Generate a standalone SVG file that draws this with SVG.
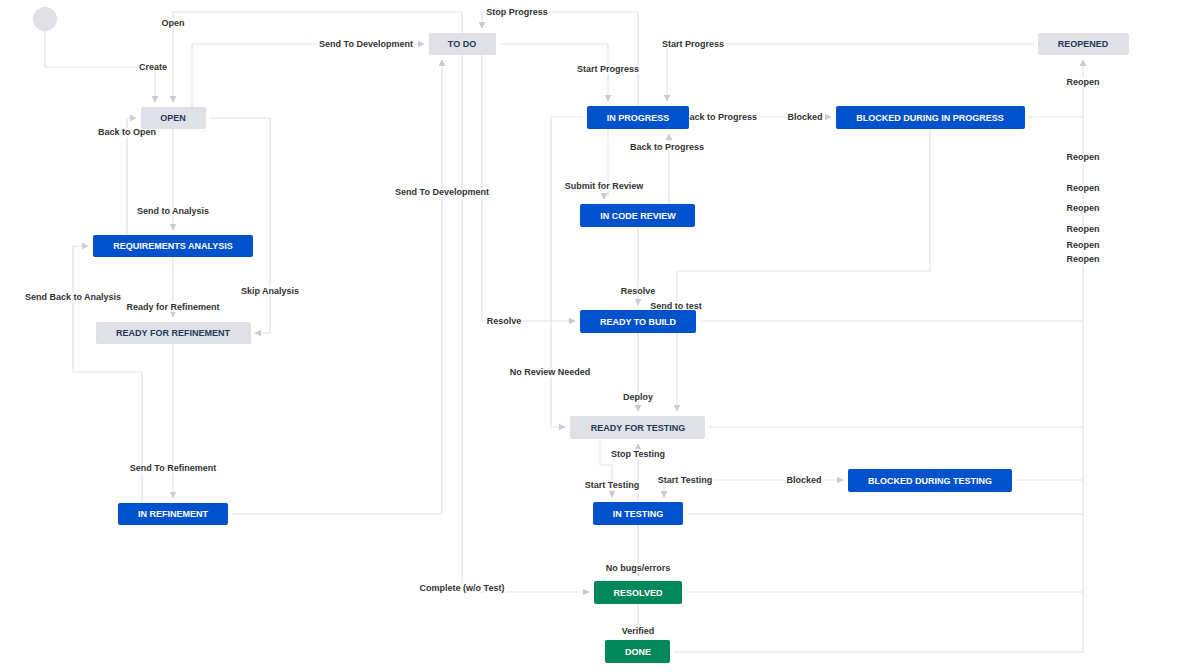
<svg xmlns="http://www.w3.org/2000/svg" width="1200" height="672" viewBox="0 0 1200 672">
<defs>
<marker id="a" viewBox="0 0 10 10" refX="9" refY="5" markerWidth="7" markerHeight="7" orient="auto" markerUnits="userSpaceOnUse"><path d="M0,0 L10,5 L0,10 z" fill="#c9ccd3"/></marker>
<style>
.c{fill:none;stroke:#e1e3e8;stroke-width:1.2}
.l{font-family:"Liberation Sans",Arial,sans-serif;font-size:9px;font-weight:bold;fill:#333;text-anchor:middle;stroke:#fff;stroke-width:4;paint-order:stroke;stroke-linejoin:round}
.n text{font-family:"Liberation Sans",Arial,sans-serif;font-size:9px;font-weight:bold;text-anchor:middle;dominant-baseline:central}
.b rect{fill:#0052cc}.b text{fill:#fff}
.g rect{fill:#dfe1e6}.g text{fill:#253858}
.d rect{fill:#00875a}.d text{fill:#fff}
</style>
</defs>
<rect width="1200" height="672" fill="#fff"/>
<g id="connectors">
<path class="c" marker-end="url(#a)" d="M45,31 V67 H155 V102"/>
<path class="c" marker-end="url(#a)" d="M462,33 V12 H173 V102"/>
<path class="c" marker-end="url(#a)" d="M192,107 V44 H424"/>
<path class="c" marker-end="url(#a)" d="M210,118 H270 V333 H255"/>
<path class="c" marker-end="url(#a)" d="M173,129 V230"/>
<path class="c" marker-end="url(#a)" d="M127,235 V118 H136"/>
<path class="c" marker-end="url(#a)" d="M173,257 V317"/>
<path class="c" marker-end="url(#a)" d="M142,503 V372 H73 V246 H88"/>
<path class="c" marker-end="url(#a)" d="M173,344 V498"/>
<path class="c" marker-end="url(#a)" d="M232,514 H442 V60"/>
<path class="c" marker-end="url(#a)" d="M462,55 V592 H589"/>
<path class="c" marker-end="url(#a)" d="M482,55 V321 H575"/>
<path class="c" marker-end="url(#a)" d="M500,44 H608 V101"/>
<path class="c" marker-end="url(#a)" d="M638,106 V12 H482 V28"/>
<path class="c" marker-end="url(#a)" d="M1034,44 H667 V101"/>
<path class="c" marker-end="url(#a)" d="M689,117 H831"/>
<path class="c" marker-end="url(#a)" d="M1083,652 V60"/>
<path class="c" d="M1029,117 H1083 M700,321 H1083 M709,427 H1083 M687,514 H1083 M1016,480 H1083 M686,592 H1083 M674,652 H1083"/>
<path class="c" marker-end="url(#a)" d="M930,129 V271 H677 V411"/>
<path class="c" marker-end="url(#a)" d="M608,129 V195 H604 V199"/>
<path class="c" marker-end="url(#a)" d="M669,204 V134"/>
<path class="c" marker-end="url(#a)" d="M638,227 V305"/>
<path class="c" marker-end="url(#a)" d="M583,117 H551 V427 H565"/>
<path class="c" marker-end="url(#a)" d="M638,333 V411"/>
<path class="c" marker-end="url(#a)" d="M600,439 V465 H612 V497"/>
<path class="c" marker-end="url(#a)" d="M638,502 V444"/>
<path class="c" marker-end="url(#a)" d="M664,480 H843"/>
<path class="c" marker-end="url(#a)" d="M664,480 V497"/>
<path class="c" marker-end="url(#a)" d="M638,525 V576"/>
<path class="c" marker-end="url(#a)" d="M638,604 V635"/>
<text class="l" x="153" y="70">Create</text>
<text class="l" x="173" y="26">Open</text>
<text class="l" x="366" y="47">Send To Development</text>
<text class="l" x="270" y="294">Skip Analysis</text>
<text class="l" x="173" y="214">Send to Analysis</text>
<text class="l" x="127" y="135">Back to Open</text>
<text class="l" x="173" y="310">Ready for Refinement</text>
<text class="l" x="73" y="300">Send Back to Analysis</text>
<text class="l" x="173" y="471">Send To Refinement</text>
<text class="l" x="442" y="195">Send To Development</text>
<text class="l" x="462" y="591">Complete (w/o Test)</text>
<text class="l" x="504" y="324">Resolve</text>
<text class="l" x="608" y="72">Start Progress</text>
<text class="l" x="517" y="15">Stop Progress</text>
<text class="l" x="693" y="47">Start Progress</text>
<text class="l" x="720" y="120">Back to Progress</text>
<text class="l" x="805" y="120">Blocked</text>
<text class="l" x="1083" y="85">Reopen</text>
<text class="l" x="1083" y="160">Reopen</text>
<text class="l" x="1083" y="191">Reopen</text>
<text class="l" x="1083" y="211">Reopen</text>
<text class="l" x="1083" y="232">Reopen</text>
<text class="l" x="1083" y="248">Reopen</text>
<text class="l" x="1083" y="262">Reopen</text>
<text class="l" x="676" y="309">Send to test</text>
<text class="l" x="604" y="189">Submit for Review</text>
<text class="l" x="667" y="150">Back to Progress</text>
<text class="l" x="638" y="294">Resolve</text>
<text class="l" x="550" y="375">No Review Needed</text>
<text class="l" x="638" y="400">Deploy</text>
<text class="l" x="612" y="488">Start Testing</text>
<text class="l" x="638" y="457">Stop Testing</text>
<text class="l" x="685" y="483">Start Testing</text>
<text class="l" x="804" y="483">Blocked</text>
<text class="l" x="638" y="571">No bugs/errors</text>
<text class="l" x="638" y="634">Verified</text>
</g>
<g id="start"><circle cx="45" cy="19" r="12" fill="#dfe1e6"/></g>
<g id="todo" class="n g"><rect x="429" y="33" width="67" height="22" rx="2"/><text x="462" y="44">TO DO</text></g>
<g id="open" class="n g"><rect x="141" y="107" width="65" height="22" rx="2"/><text x="173" y="118">OPEN</text></g>
<g id="req" class="n b"><rect x="93" y="235" width="160" height="22" rx="2"/><text x="173" y="246">REQUIREMENTS ANALYSIS</text></g>
<g id="rfr" class="n g"><rect x="96" y="322" width="155" height="22" rx="2"/><text x="173" y="333">READY FOR REFINEMENT</text></g>
<g id="inref" class="n b"><rect x="118" y="503" width="110" height="22" rx="2"/><text x="173" y="514">IN REFINEMENT</text></g>
<g id="inprog" class="n b"><rect x="587" y="106" width="102" height="23" rx="2"/><text x="638" y="117.5">IN PROGRESS</text></g>
<g id="bip" class="n b"><rect x="836" y="106" width="189" height="23" rx="2"/><text x="930" y="117.5">BLOCKED DURING IN PROGRESS</text></g>
<g id="reopened" class="n g"><rect x="1038" y="33" width="91" height="22" rx="2"/><text x="1083" y="44">REOPENED</text></g>
<g id="icr" class="n b"><rect x="580" y="204" width="115" height="23" rx="2"/><text x="638" y="215.5">IN CODE REVIEW</text></g>
<g id="rtb" class="n b"><rect x="580" y="310" width="116" height="23" rx="2"/><text x="638" y="321.5">READY TO BUILD</text></g>
<g id="rft" class="n g"><rect x="570" y="416" width="135" height="23" rx="2"/><text x="638" y="427.5">READY FOR TESTING</text></g>
<g id="intest" class="n b"><rect x="593" y="502" width="90" height="23" rx="2"/><text x="638" y="513.5">IN TESTING</text></g>
<g id="bdt" class="n b"><rect x="848" y="469" width="164" height="23" rx="2"/><text x="930" y="480.5">BLOCKED DURING TESTING</text></g>
<g id="resolved" class="n d"><rect x="594" y="581" width="88" height="23" rx="2"/><text x="638" y="592.5">RESOLVED</text></g>
<g id="done" class="n d"><rect x="605" y="640" width="65" height="23" rx="2"/><text x="638" y="651.5">DONE</text></g>
</svg>
